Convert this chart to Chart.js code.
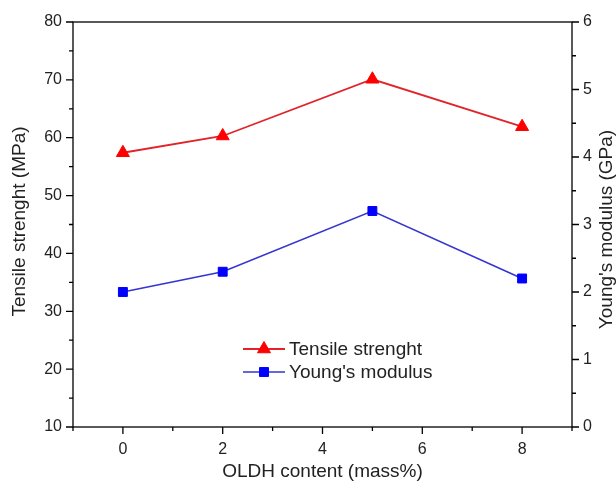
<!DOCTYPE html>
<html>
<head>
<meta charset="utf-8">
<script src="https://cdn.jsdelivr.net/npm/chart.js@4/dist/chart.umd.min.js"></script>
<style>
  html, body { margin: 0; padding: 0; background: #fff; }
  #wrap { width: 616px; height: 483px; position: relative; }
</style>
</head>
<body>
<div id="wrap"><canvas id="chart" width="616" height="483"></canvas></div>
<script>
// Chart data
const oldhContent = [0, 2, 5, 8];
const tensileStrength = [57.4, 60.3, 70.1, 61.9];
const youngsModulus = [2.0, 2.3, 3.2, 2.2];
const xTickLabels = [0, 2, 4, 6, 8];
const leftTickLabels = [10, 20, 30, 40, 50, 60, 70, 80];
const rightTickLabels = [0, 1, 2, 3, 4, 5, 6];

const FONT = "'Liberation Sans', Arial, sans-serif";
const RED = '#ff0000';
const RED_LINE = '#e0242a';
const BLUE = '#0000ff';
const BLUE_LINE = '#3535d0';

function toPoints(values) {
    return oldhContent.map(function(x, i) { return { x: x, y: values[i] }; });
}

// Frame, tick marks, titles and legend drawn on top
const framePlugin = {
    id: 'frame',
    afterDraw: function(chart) {
        const ctx = chart.ctx;
        const area = chart.chartArea;
        const sx = chart.scales.x;
        const sl = chart.scales.y;
        const sr = chart.scales.y1;

        ctx.save();
        ctx.strokeStyle = '#000';
        ctx.lineWidth = 1.3;
        ctx.strokeRect(area.left, area.top, area.right - area.left, area.bottom - area.top);

        ctx.beginPath();
        sx.ticks.forEach(function(t) {
            const px = sx.getPixelForValue(t.value);
            const len = t.value % 2 === 0 ? 7 : 4;
            ctx.moveTo(px, area.bottom);
            ctx.lineTo(px, area.bottom + len);
        });
        sl.ticks.forEach(function(t) {
            const py = sl.getPixelForValue(t.value);
            const len = t.value % 10 === 0 ? 7 : 4;
            ctx.moveTo(area.left, py);
            ctx.lineTo(area.left - len, py);
        });
        sr.ticks.forEach(function(t) {
            const py = sr.getPixelForValue(t.value);
            const len = Number.isInteger(t.value) ? 7 : 4;
            ctx.moveTo(area.right, py);
            ctx.lineTo(area.right + len, py);
        });
        ctx.stroke();

        // Axis titles
        ctx.fillStyle = '#222';
        ctx.font = '19px ' + FONT;
        ctx.textAlign = 'center';
        ctx.textBaseline = 'middle';
        const midY = (area.top + area.bottom) / 2;

        ctx.save();
        ctx.translate(20, midY - 3);
        ctx.rotate(-Math.PI / 2);
        ctx.fillText('Tensile strenght (MPa)', 0, 0);
        ctx.restore();

        ctx.save();
        ctx.translate(607, midY + 5);
        ctx.rotate(-Math.PI / 2);
        ctx.fillText("Young's modulus (GPa)", 0, 0);
        ctx.restore();

        ctx.fillText('OLDH content (mass%)', (area.left + area.right) / 2, 472);

        // Legend
        const items = [
            { ds: chart.data.datasets[0], y: 349 },
            { ds: chart.data.datasets[1], y: 372 }
        ];
        ctx.textAlign = 'left';
        items.forEach(function(item) {
            const ds = item.ds;
            ctx.strokeStyle = ds.borderColor;
            ctx.lineWidth = ds.borderWidth;
            ctx.beginPath();
            ctx.moveTo(243, item.y);
            ctx.lineTo(285, item.y);
            ctx.stroke();
            ctx.fillStyle = ds.pointBackgroundColor;
            ctx.strokeStyle = ds.pointBorderColor;
            ctx.lineWidth = 1;
            Chart.helpers.drawPoint(ctx, {
                pointStyle: ds.pointStyle,
                radius: ds.pointRadius,
                rotation: 0,
                borderWidth: 1
            }, 264, item.y);
            ctx.fillStyle = '#222';
            ctx.fillText(ds.label, 289, item.y + 1);
        });
        ctx.restore();
    }
};

const ctx = document.getElementById('chart').getContext('2d');
const chart = new Chart(ctx, {
    type: 'line',
    data: {
        datasets: [
            {
                label: 'Tensile strenght',
                data: toPoints(tensileStrength),
                yAxisID: 'y',
                borderColor: RED_LINE,
                borderWidth: 1.8,
                pointStyle: 'triangle',
                pointRadius: 7.5,
                pointBackgroundColor: RED,
                pointBorderColor: RED,
                pointBorderWidth: 1,
                tension: 0,
                clip: false
            },
            {
                label: "Young's modulus",
                data: toPoints(youngsModulus),
                yAxisID: 'y1',
                borderColor: BLUE_LINE,
                borderWidth: 1.6,
                pointStyle: 'rect',
                pointRadius: 6.3,
                pointBackgroundColor: BLUE,
                pointBorderColor: BLUE,
                pointBorderWidth: 1,
                tension: 0,
                clip: false
            }
        ]
    },
    options: {
        responsive: false,
        animation: false,
        devicePixelRatio: 1,
        layout: { padding: { top: 22, left: 0, right: 0, bottom: 0 } },
        plugins: {
            legend: { display: false },
            tooltip: { enabled: false }
        },
        scales: {
            x: {
                type: 'linear',
                min: -1,
                max: 9,
                afterFit: function(scale) { scale.height = 56; },
                grid: { display: true, drawOnChartArea: false, drawTicks: true, tickLength: 6, tickColor: 'rgba(0,0,0,0)' },
                border: { display: false },
                ticks: {
                    stepSize: 1,
                    autoSkip: false,
                    maxRotation: 0,
                    padding: 7,
                    color: '#222',
                    font: { family: FONT, size: 16 },
                    callback: function(v) { return xTickLabels.indexOf(v) >= 0 ? String(v) : ''; }
                }
            },
            y: {
                position: 'left',
                min: 10,
                max: 80,
                afterFit: function(scale) { scale.width = 73; },
                grid: { display: true, drawOnChartArea: false, drawTicks: true, tickLength: 7, tickColor: 'rgba(0,0,0,0)' },
                border: { display: false },
                ticks: {
                    stepSize: 5,
                    autoSkip: false,
                    padding: 4,
                    color: '#222',
                    font: { family: FONT, size: 16 },
                    callback: function(v) { return leftTickLabels.indexOf(v) >= 0 ? String(v) : ''; }
                }
            },
            y1: {
                position: 'right',
                min: 0,
                max: 6,
                afterFit: function(scale) { scale.width = 44; },
                grid: { display: true, drawOnChartArea: false, drawTicks: true, tickLength: 6, tickColor: 'rgba(0,0,0,0)' },
                border: { display: false },
                ticks: {
                    stepSize: 0.5,
                    autoSkip: false,
                    padding: 5,
                    color: '#222',
                    font: { family: FONT, size: 16 },
                    callback: function(v) { return rightTickLabels.indexOf(v) >= 0 ? String(v) : ''; }
                }
            }
        }
    },
    plugins: [framePlugin]
});
</script>
</body>
</html>
